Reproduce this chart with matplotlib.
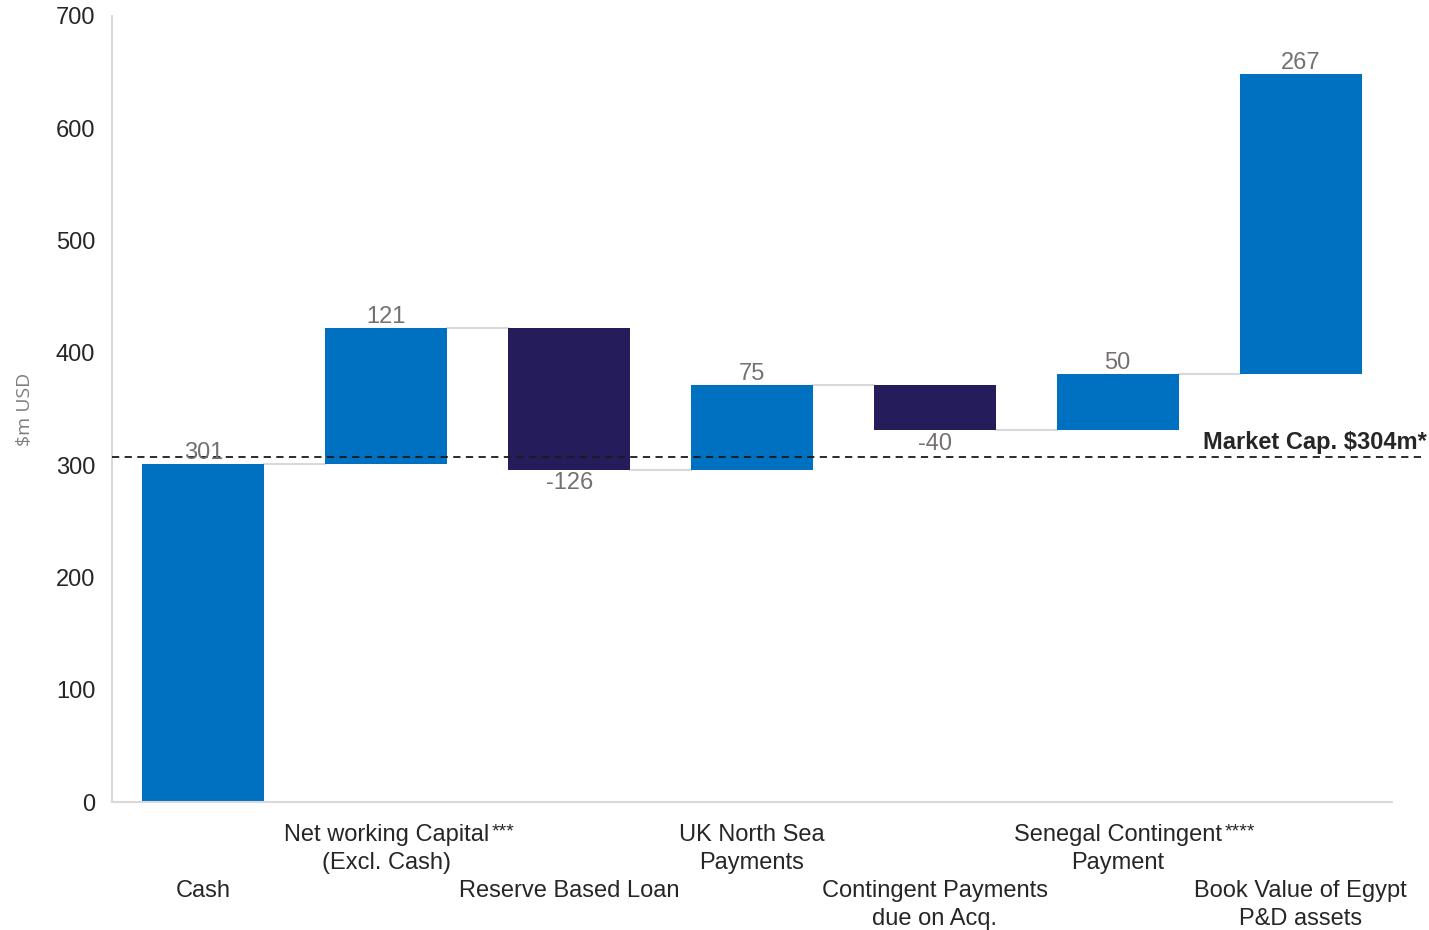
import numpy as np
import matplotlib
matplotlib.use("Agg")
import matplotlib.pyplot as plt
from matplotlib.transforms import blended_transform_factory

plt.rcParams["font.family"] = ["Liberation Sans", "DejaVu Sans"]

# chart data
categories = [
    ["Cash"],
    ["Net working Capital", "(Excl. Cash)"],
    ["Reserve Based Loan"],
    ["UK North Sea", "Payments"],
    ["Contingent Payments", "due on Acq."],
    ["Senegal Contingent", "Payment"],
    ["Book Value of Egypt", "P&D assets"],
]
footnotes = ["", "***", "", "", "", "****", ""]
values = [301, 121, -126, 75, -40, 50, 267]
market_cap = 304
market_cap_line = 307  # where the dashed line sits in the source picture

BLUE = "#0070C0"
NAVY = "#241C5B"
GRID_GREY = "#D9D9D9"
LABEL_GREY = "#767171"
TEXT = "#262626"

vals = np.array(values)
ends = np.cumsum(vals)
starts = ends - vals
x = np.arange(len(vals))
width = 0.667

fig = plt.figure(figsize=(14.29, 9.30), dpi=100)
ax = fig.add_axes([0.0784, 0.1376, 0.8957, 0.8452])

colors = [BLUE if v >= 0 else NAVY for v in vals]
ax.bar(x, vals, bottom=starts, width=width, color=colors, zorder=2)

# connectors between bars
for i in range(len(vals) - 1):
    ax.plot([x[i] + width / 2, x[i + 1] - width / 2], [ends[i], ends[i]],
            color=GRID_GREY, lw=1.5, zorder=1)

# value labels
for i, v in enumerate(vals):
    if v >= 0:
        ax.annotate(f"{v}", (x[i], ends[i]), xytext=(0, 0), textcoords="offset points",
                    ha="center", va="bottom", fontsize=17, color=LABEL_GREY, zorder=4)
    else:
        ax.annotate(f"{v}", (x[i], ends[i]), xytext=(0, -2), textcoords="offset points",
                    ha="center", va="top", fontsize=17, color=LABEL_GREY, zorder=4)

# market cap line
ax.plot([-0.5, 6.66], [market_cap_line, market_cap_line], ls=(0, (4, 3)),
        color="#1a1a1a", lw=1.3, clip_on=False, zorder=3)
ax.text(6.69, 320.5, f"Market Cap. ${market_cap}m*", ha="right", va="center",
        fontsize=17, fontweight="bold", color=TEXT, clip_on=False)

# staggered category labels, one text per line
trans = blended_transform_factory(ax.transData, ax.transAxes)
row_y = [-0.0425, -0.0780, -0.1137, -0.1493]
for i, lines in enumerate(categories):
    first_row = 0 if i % 2 == 1 else 2
    for j, line in enumerate(lines):
        t = ax.text(x[i], row_y[first_row + j], line, transform=trans, ha="center",
                    va="center", fontsize=17, color=TEXT)
        if j == 0 and footnotes[i]:
            ax.annotate(footnotes[i], xy=(1, 1), xycoords=t, xytext=(2, 1),
                        textcoords="offset points", ha="left", va="top",
                        fontsize=14, color=TEXT)

ax.set_xlim(-0.5, 6.5)
ax.set_ylim(0, 700)
ax.set_yticks(np.arange(0, 701, 100))
ax.set_xticks([])
ax.tick_params(axis="y", length=0, labelsize=17, labelcolor=TEXT, pad=12)
for s in ["top", "right"]:
    ax.spines[s].set_visible(False)
for s in ["left", "bottom"]:
    ax.spines[s].set_color(GRID_GREY)
    ax.spines[s].set_linewidth(1.5)

ax.set_ylabel("$m USD", fontsize=14, color="#7f7f7f", labelpad=16,
              family=["Open Sans", "DejaVu Sans"])

fig.savefig("out.png", dpi=100)
